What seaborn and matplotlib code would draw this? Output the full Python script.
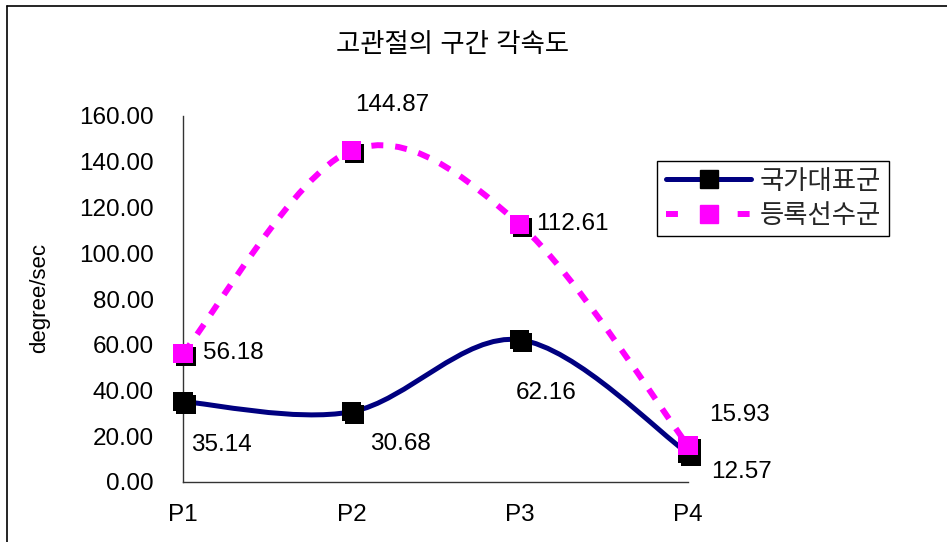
import numpy as np
import pandas as pd
import matplotlib
matplotlib.use("Agg")
import matplotlib.pyplot as plt
import seaborn as sns
from matplotlib.path import Path
from matplotlib.patches import PathPatch
from matplotlib.lines import Line2D
from matplotlib.transforms import offset_copy

# ---- data ----
phases = ["P1", "P2", "P3", "P4"]
national = [35.14, 30.68, 62.16, 12.57]      # 국가대표군
registered = [56.18, 144.87, 112.61, 15.93]  # 등록선수군
series_names = ["국가대표군", "등록선수군"]
title = "고관절의 구간 각속도"
y_label = "degree/sec"
y_ticks = [0, 20, 40, 60, 80, 100, 120, 140, 160]

# value-label offsets (points) for each series / phase
national_offsets = [(5.8, -31.5), (13.7, -23.0), (19.4, -38.0), (16.6, -13.7)]
national_ha = ["left", "left", "center", "left"]
registered_offsets = [(14.4, 0.0), (29.5, 32.8), (12.2, 0.0), (15.1, 21.8)]
registered_ha = ["left", "center", "left", "left"]

NAVY = "#000080"
MAGENTA = "#FF00FF"

sns.set_theme(style="white")
plt.rcParams["font.family"] = ["Liberation Sans", "Noto Sans CJK KR", "DejaVu Sans"]

fig = plt.figure(figsize=(9.47, 5.42), dpi=100)
ax = fig.add_axes([183 / 947, 60 / 542, 505 / 947, 366 / 542])

x = np.arange(len(phases), dtype=float)


def smooth_path(xs, ys):
    """Cubic Bezier path through the points (Catmull-Rom style tangents)."""
    pts = np.column_stack([xs, ys])
    n = len(pts)
    tang = np.zeros_like(pts)
    for i in range(n):
        a = pts[max(i - 1, 0)]
        b = pts[min(i + 1, n - 1)]
        tang[i] = (b - a) / 2.0
    verts = [pts[0]]
    codes = [Path.MOVETO]
    for i in range(n - 1):
        verts += [pts[i] + tang[i] / 3.0, pts[i + 1] - tang[i + 1] / 3.0, pts[i + 1]]
        codes += [Path.CURVE4] * 3
    return Path(verts, codes)


# smoothed series lines
ax.add_patch(PathPatch(smooth_path(x, national), fill=False, edgecolor=NAVY,
                       linewidth=3.6, capstyle="round", joinstyle="round",
                       zorder=2, clip_on=False))
ax.add_patch(PathPatch(smooth_path(x, registered), fill=False, edgecolor=MAGENTA,
                       linewidth=4.3, linestyle=(0, (2.0, 2.0)), capstyle="butt",
                       zorder=4, clip_on=False))

df = pd.DataFrame({"phase": x, "national": national, "registered": registered})
shadow = offset_copy(ax.transData, fig=fig, x=3, y=-3, units="dots")

# markers with a small drop shadow
for col, face, z in [("national", "black", 3), ("registered", MAGENTA, 5)]:
    sns.scatterplot(data=df, x="phase", y=col, ax=ax, marker="s", s=190,
                    color="black", edgecolor="none", linewidth=0,
                    transform=shadow, zorder=z, clip_on=False, legend=False)
    sns.scatterplot(data=df, x="phase", y=col, ax=ax, marker="s", s=190,
                    color=face, edgecolor="none", linewidth=0,
                    zorder=z + 0.1, clip_on=False, legend=False)

# value labels
for vals, offs, has in [(national, national_offsets, national_ha),
                        (registered, registered_offsets, registered_ha)]:
    for xi, v, off, ha in zip(x, vals, offs, has):
        ax.annotate(f"{v:.2f}", (xi, v), xytext=off, textcoords="offset points",
                    ha=ha, va="center", fontsize=17.5, color="black", zorder=6)

# axes styling
ax.set_xlim(0, 3)
ax.set_ylim(0, 160)
ax.set_xticks(x)
ax.set_xticklabels(phases)
ax.set_yticks(y_ticks)
ax.set_yticklabels([f"{t:.2f}" for t in y_ticks])
ax.set_xlabel("")
ax.set_ylabel(y_label, fontsize=16, color="black")
ax.yaxis.set_label_coords(-0.263, 0.503)
for side in ["top", "right"]:
    ax.spines[side].set_visible(False)
for side in ["left", "bottom"]:
    ax.spines[side].set_color("#333333")
    ax.spines[side].set_linewidth(1.0)
ax.tick_params(axis="both", direction="in", length=6, width=0.8, color="#333333",
               labelsize=17.5, labelcolor="black")
ax.tick_params(axis="y", pad=21)
ax.tick_params(axis="x", pad=16)
ax.set_facecolor("white")
ax.grid(False)

# legend
handles = [
    Line2D([], [], color=NAVY, linewidth=3.6, solid_capstyle="round",
           marker="s", markersize=13, markerfacecolor="black", markeredgecolor="black"),
    Line2D([], [], color=MAGENTA, linewidth=4.3, linestyle=(0, (2.0, 4.0)),
           dash_capstyle="butt", marker="s", markersize=13,
           markerfacecolor=MAGENTA, markeredgecolor=MAGENTA),
]
leg = fig.legend(handles, series_names, loc="upper left",
                 bbox_to_anchor=(657 / 947, 1 - 161 / 542), bbox_transform=fig.transFigure,
                 borderaxespad=0, fontsize=19, handlelength=3.25, handletextpad=0.3,
                 borderpad=0.33, labelspacing=0.38, numpoints=1,
                 frameon=True, fancybox=False, framealpha=1, edgecolor="black")
leg.get_frame().set_linewidth(1.0)

# title
fig.text(452 / 947, 1 - 45 / 542, title, ha="center", va="center", fontsize=19,
         color="black")

# chart-area border
fig.add_artist(Line2D([7 / 947, 7 / 947], [0, 1 - 6 / 542], color="black", linewidth=1.2,
                      transform=fig.transFigure))
fig.add_artist(Line2D([7 / 947, 1], [1 - 6 / 542, 1 - 6 / 542], color="black", linewidth=1.2,
                      transform=fig.transFigure))

fig.savefig("out.png", dpi=100, facecolor="white")
